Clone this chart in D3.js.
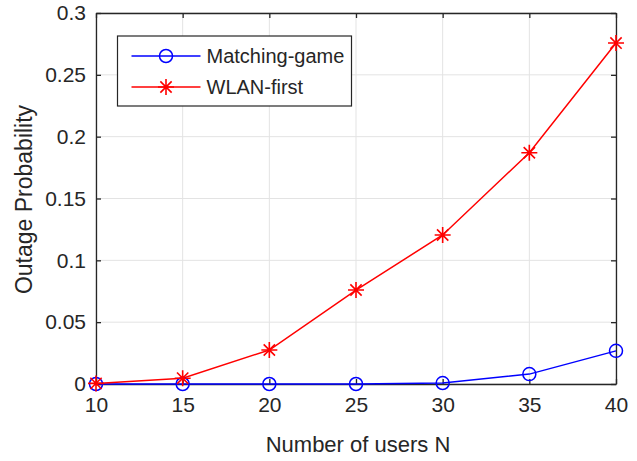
<!DOCTYPE html>
<html>
<head>
<meta charset="utf-8">
<script src="https://cdn.jsdelivr.net/npm/d3@7"></script>
<style>
  body { margin: 0; background: #fff; }
  text { font-family: "Liberation Sans", Arial, sans-serif; fill: #262626; }
</style>
</head>
<body>
<div id="chart"></div>
<script>
// Data
const users = [10, 15, 20, 25, 30, 35, 40];
const matchingGame = [0, 0, 0, 0, 0.0008, 0.008, 0.0268];
const wlanFirst = [0.0005, 0.0047, 0.0275, 0.076, 0.1205, 0.187, 0.2757];
const xTicks = [10, 15, 20, 25, 30, 35, 40];
const yTicks = [0, 0.05, 0.1, 0.15, 0.2, 0.25, 0.3];
const seriesNames = ["Matching-game", "WLAN-first"];

const width = 637, height = 461;
const margin = { top: 13, right: 21, bottom: 77, left: 96 };
const innerW = width - margin.left - margin.right;
const innerH = height - margin.top - margin.bottom;
const axisColor = "#262626";

const svg = d3.select("#chart").append("svg")
    .attr("width", width)
    .attr("height", height);

const g = svg.append("g")
    .attr("transform", `translate(${margin.left},${margin.top})`);

const x = d3.scaleLinear().domain([10, 40]).range([0, innerW]);
const y = d3.scaleLinear().domain([0, 0.3]).range([innerH, 0]);

// grid
g.append("g").selectAll("line")
    .data(xTicks)
    .enter().append("line")
    .attr("x1", d => x(d)).attr("x2", d => x(d))
    .attr("y1", 0).attr("y2", innerH)
    .attr("stroke", "#e3e3e3").attr("stroke-width", 1);
g.append("g").selectAll("line")
    .data(yTicks)
    .enter().append("line")
    .attr("x1", 0).attr("x2", innerW)
    .attr("y1", d => y(d)).attr("y2", d => y(d))
    .attr("stroke", "#e3e3e3").attr("stroke-width", 1);

// axes (ticks pointing inward, box on)
const fmtY = d => d === 0 ? "0" : String(d);
const xAxis = g.append("g")
    .attr("transform", `translate(0,${innerH})`)
    .call(d3.axisBottom(x).tickValues(xTicks).tickSizeInner(-5).tickSizeOuter(0).tickPadding(13));
const xTop = g.append("g")
    .call(d3.axisTop(x).tickValues(xTicks).tickSizeInner(-5).tickSizeOuter(0).tickFormat(""));
const yAxis = g.append("g")
    .call(d3.axisLeft(y).tickValues(yTicks).tickSizeInner(-5).tickSizeOuter(0).tickPadding(10).tickFormat(fmtY));
const yRight = g.append("g")
    .attr("transform", `translate(${innerW},0)`)
    .call(d3.axisRight(y).tickValues(yTicks).tickSizeInner(-5).tickSizeOuter(0).tickFormat(""));

[xAxis, xTop, yAxis, yRight].forEach(a => {
    a.select(".domain").attr("stroke", axisColor).attr("stroke-width", 1.3);
    a.selectAll(".tick line").attr("stroke", axisColor).attr("stroke-width", 1.3);
    a.selectAll(".tick text")
        .attr("fill", axisColor)
        .style("font-size", "21px")
        .style("font-family", '"Liberation Sans", Arial, sans-serif');
});

// axis labels
svg.append("text")
    .attr("x", margin.left + innerW / 2 + 2)
    .attr("y", 452)
    .attr("text-anchor", "middle")
    .style("font-size", "22px")
    .text("Number of users N");

svg.append("text")
    .attr("transform", `translate(32,${margin.top + innerH / 2 + 1}) rotate(-90)`)
    .attr("text-anchor", "middle")
    .style("font-size", "23px")
    .text("Outage Probability");

// series
const line = d3.line().x((d, i) => x(users[i])).y(d => y(d));

function starPath(s) {
    // asterisk marker
    let p = "";
    p += `M${-s},0L${s},0`;
    p += `M0,${-s}L0,${s}`;
    const a = s * 0.707;
    p += `M${-a},${-a}L${a},${a}`;
    p += `M${-a},${a}L${a},${-a}`;
    return p;
}

g.append("path")
    .datum(matchingGame)
    .attr("fill", "none")
    .attr("stroke", "#0000ff")
    .attr("stroke-width", 1.5)
    .attr("d", line);

g.append("path")
    .datum(wlanFirst)
    .attr("fill", "none")
    .attr("stroke", "#ff0000")
    .attr("stroke-width", 1.5)
    .attr("d", line);

g.append("g").selectAll("circle")
    .data(matchingGame)
    .enter().append("circle")
    .attr("cx", (d, i) => x(users[i]))
    .attr("cy", d => y(d))
    .attr("r", 6.5)
    .attr("fill", "none")
    .attr("stroke", "#0000ff")
    .attr("stroke-width", 1.5);

g.append("g").selectAll("path")
    .data(wlanFirst)
    .enter().append("path")
    .attr("transform", (d, i) => `translate(${x(users[i])},${y(d)})`)
    .attr("d", starPath(8))
    .attr("fill", "none")
    .attr("stroke", "#ff0000")
    .attr("stroke-width", 1.6);

// legend
const legend = svg.append("g").attr("transform", "translate(117.5,36)");
legend.append("rect")
    .attr("width", 234)
    .attr("height", 70)
    .attr("fill", "#fff")
    .attr("stroke", axisColor)
    .attr("stroke-width", 1.2);

const colors = ["#0000ff", "#ff0000"];
seriesNames.forEach((name, i) => {
    const ly = 20 + i * 31;
    const row = legend.append("g").attr("transform", `translate(0,${ly})`);
    row.append("line")
        .attr("x1", 14).attr("x2", 83)
        .attr("stroke", colors[i]).attr("stroke-width", 1.5);
    if (i === 0) {
        row.append("circle").attr("cx", 48.5).attr("r", 6.5)
            .attr("fill", "none").attr("stroke", colors[i]).attr("stroke-width", 1.5);
    } else {
        row.append("path").attr("transform", "translate(48.5,0)")
            .attr("d", starPath(8))
            .attr("fill", "none").attr("stroke", colors[i]).attr("stroke-width", 1.6);
    }
    row.append("text")
        .attr("x", 89)
        .attr("dy", "0.35em")
        .style("font-size", "20px")
        .text(name);
});
</script>
</body>
</html>
